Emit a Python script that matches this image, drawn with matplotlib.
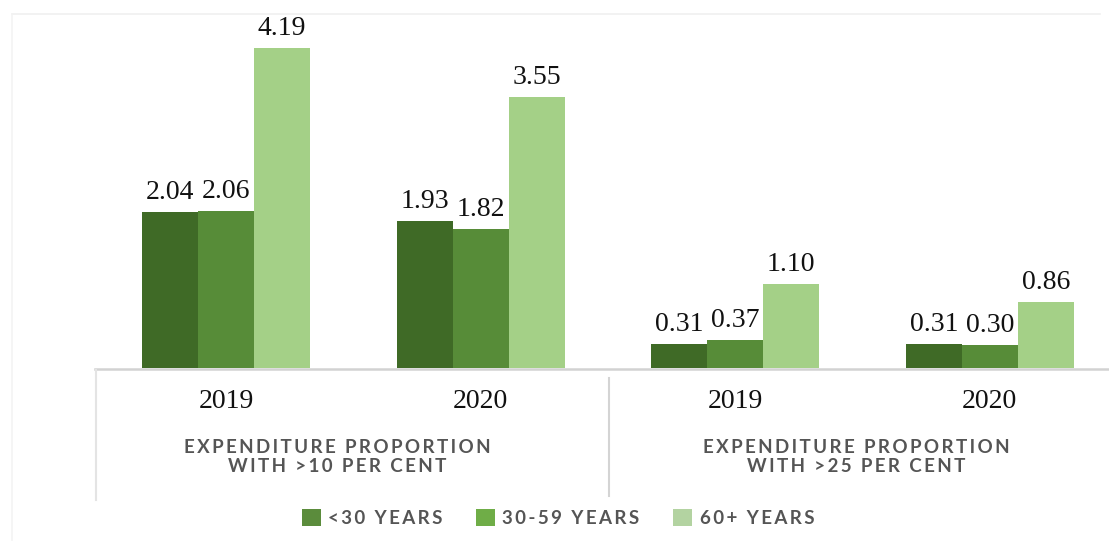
import matplotlib
matplotlib.use("Agg")
import matplotlib.pyplot as plt
import matplotlib.transforms as mtransforms
from matplotlib.patches import Patch
from matplotlib.lines import Line2D
import numpy as np

# ---- data ----
years = ["2019", "2020", "2019", "2020"]
groups = ["EXPENDITURE PROPORTION\nWITH >10 PER CENT", "EXPENDITURE PROPORTION\nWITH >25 PER CENT"]
series_names = ["<30 YEARS", "30-59 YEARS", "60+ YEARS"]
under30 = [2.04, 1.93, 0.31, 0.31]
age30_59 = [2.06, 1.82, 0.37, 0.30]
age60plus = [4.19, 3.55, 1.10, 0.86]
labels_under30 = ["2.04", "1.93", "0.31", "0.31"]
labels_30_59 = ["2.06", "1.82", "0.37", "0.30"]
labels_60plus = ["4.19", "3.55", "1.10", "0.86"]

bar_colors = ["#3f6a26", "#578c38", "#a4d087"]
legend_colors = ["#5b8c3c", "#6fad47", "#b3d3a1"]

W, H = 1109, 544
fig = plt.figure(figsize=(W / 100, H / 100), dpi=100)
fig.patch.set_facecolor("white")

def spaced(s):
    return "\u2009".join(list(s)).replace("\u2009\n\u2009", "\n")

ax = fig.add_axes([99 / W, (H - 368) / H, 1018 / W, 351 / H])
ax.set_xlim(-0.5, 3.5)
ax.set_ylim(0, 4.6)
ax.axis("off")

x = np.arange(len(years))
bw = 0.22
all_series = [under30, age30_59, age60plus]
all_labels = [labels_under30, labels_30_59, labels_60plus]
for i, (vals, labs) in enumerate(zip(all_series, all_labels)):
    bars = ax.bar(x + (i - 1) * bw, vals, width=bw, color=bar_colors[i], linewidth=0)
    for b, lab in zip(bars, labs):
        ax.annotate(lab, (b.get_x() + b.get_width() / 2, b.get_height()),
                    xytext=(0, 5), textcoords="offset points", ha="center", va="bottom",
                    fontsize=20, family="Liberation Serif", color="#111111")

# table-like category axis
line_col = "#d2d2d2"
fig.add_artist(Line2D([95 / W, 1.0], [1 - 369 / H] * 2, color=line_col, lw=1.8))
fig.add_artist(Line2D([96 / W] * 2, [1 - 370 / H, 1 - 500 / H], color="#e4e4e4", lw=1.5))
fig.add_artist(Line2D([609 / W] * 2, [1 - 378 / H, 1 - 496 / H], color="#d4d4d4", lw=1.5))
# faint outer frame
fig.add_artist(Line2D([12 / W, 1100 / W], [1 - 14 / H] * 2, color="#f0f0f0", lw=1.2))
fig.add_artist(Line2D([12 / W] * 2, [1 - 14 / H, 1 - 540 / H], color="#f3f3f3", lw=1.2))

tr = mtransforms.blended_transform_factory(ax.transData, fig.transFigure)
for xi, yr in zip(x, years):
    ax.text(xi, 1 - 401 / H, yr, transform=tr, ha="center", va="center",
            fontsize=20, family="Liberation Serif", color="#111111")

group_px = [337, 856]
for gx, g in zip(group_px, groups):
    fig.text(gx / W, 1 - 457 / H, spaced(g), ha="center", va="center",
             fontsize=13.5, fontweight="bold", family=["Lato", "DejaVu Sans"],
             color="#555555", linespacing=1.2)

handles = [Patch(facecolor=c, edgecolor="none") for c in legend_colors]
leg = fig.legend(handles, [spaced(s) for s in series_names], loc="center",
                 bbox_to_anchor=(558 / W, 1 - 518 / H), ncol=3, frameon=False,
                 handlelength=1.0, handleheight=1.0, handletextpad=0.4,
                 columnspacing=1.8,
                 prop={"family": ["Lato", "DejaVu Sans"], "weight": "bold", "size": 13.5})
for t in leg.get_texts():
    t.set_color("#555555")

fig.savefig("out.png", dpi=100, facecolor="white")
